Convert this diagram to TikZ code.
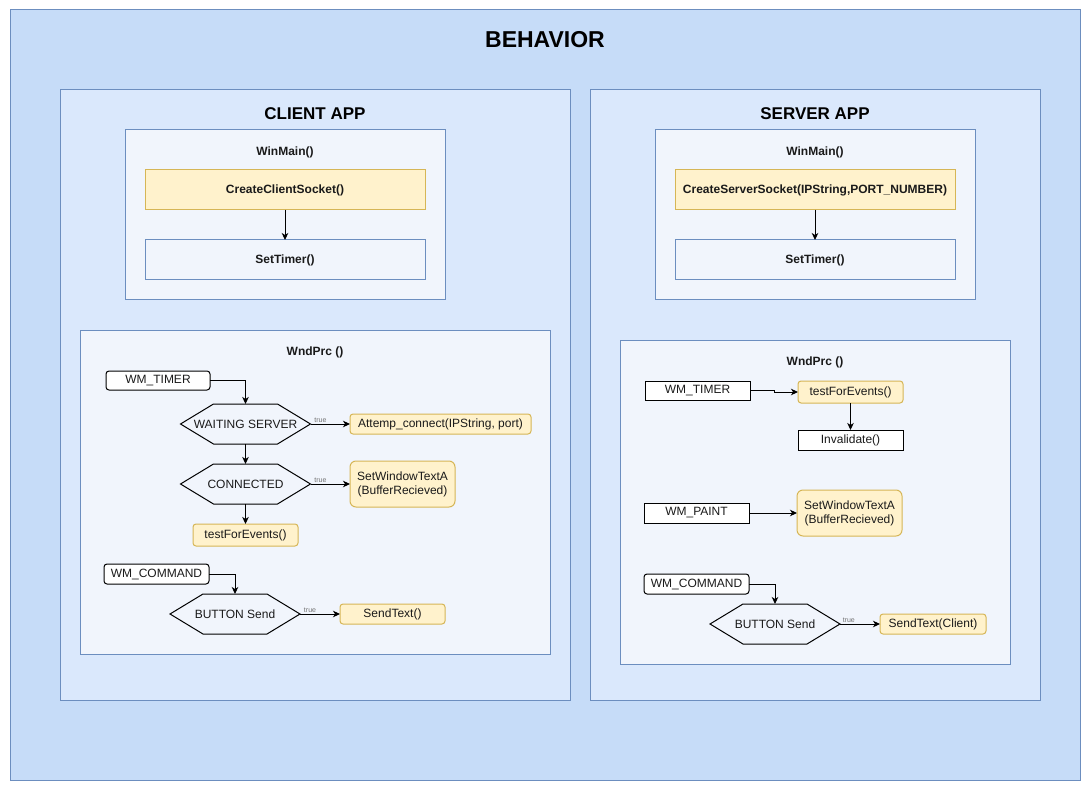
\documentclass[tikz,border=0pt]{standalone}
\usepackage{fontspec}
\setmainfont{Liberation Sans}
\usetikzlibrary{arrows.meta,calc}
\definecolor{outerfill}{HTML}{C6DCF8}
\definecolor{appfill}{HTML}{DAE8FC}
\definecolor{innerfill}{HTML}{F1F5FC}
\definecolor{bluestroke}{HTML}{6C8EBF}
\definecolor{yfill}{HTML}{FFF2CC}
\definecolor{ystroke}{HTML}{D6B656}
\definecolor{txt}{HTML}{1A1A1A}
\newcommand{\hexdraw}[1]{\draw[line width=1pt,black] (#1.west) -- ([xshift=33pt]#1.north west) -- ([xshift=-33pt]#1.north east) -- (#1.east) -- ([xshift=-33pt]#1.south east) -- ([xshift=33pt]#1.south west) -- cycle;}
\begin{document}
\begin{tikzpicture}[x=1pt,y=-1pt,
  container/.style={draw=bluestroke,line width=1pt,inner sep=0pt,outer sep=0pt,anchor=north west},
  base/.style={inner sep=0pt,outer sep=0pt,font=\fontsize{12}{14}\selectfont,text=txt,align=center},
  bluebox/.style={base,draw=bluestroke,fill=innerfill,line width=1pt,font=\fontsize{12}{14}\selectfont\bfseries},
  ybox/.style={base,draw=ystroke,fill=yfill,line width=1pt},
  ybold/.style={ybox,font=\fontsize{12}{14}\selectfont\bfseries},
  msg/.style={base,draw=black,fill=white,line width=1pt},
  hexa/.style={base,minimum width=130pt,minimum height=40pt},
  arr/.style={line width=1pt,-{Stealth[length=7pt,width=6.5pt,inset=2pt]}},
  truelbl/.style={font=\fontsize{7}{8}\selectfont,text=black!55,inner sep=1pt,above}
]
\useasboundingbox (0,0) rectangle (1091,791);
% containers
\node[container,fill=outerfill,minimum width=1070pt,minimum height=770pt] (beh) at (10,10) {};
\node[container,fill=appfill,minimum width=510pt,minimum height=610pt] (capp) at (60,90) {};
\node[container,fill=appfill,minimum width=450pt,minimum height=610pt] (sapp) at (590,90) {};
\node[container,fill=innerfill,minimum width=320pt,minimum height=170pt] (cwm) at (125,130) {};
\node[container,fill=innerfill,minimum width=320pt,minimum height=170pt] (swm) at (655,130) {};
\node[container,fill=innerfill,minimum width=470pt,minimum height=324pt] (cwp) at (80,330) {};
\node[container,fill=innerfill,minimum width=390pt,minimum height=324pt] (swp0) at (620,340) {};
% titles
\node[base,font=\fontsize{23}{26}\selectfont\bfseries,text=black] (tbeh) at (545,40) {BEHAVIOR};
\node[base,font=\fontsize{17}{20}\selectfont\bfseries,text=black] (tcli) at (315,114) {CLIENT APP};
\node[base,font=\fontsize{17}{20}\selectfont\bfseries,text=black] (tsrv) at (815,114) {SERVER APP};
\node[base,font=\fontsize{12}{14}\selectfont\bfseries] (tcwm) at (285,152) {WinMain()};
\node[base,font=\fontsize{12}{14}\selectfont\bfseries] (tswm) at (815,152) {WinMain()};
\node[base,font=\fontsize{12}{14}\selectfont\bfseries] (tcwp) at (315,352) {WndPrc ()};
\node[base,font=\fontsize{12}{14}\selectfont\bfseries] (tswp) at (815,362) {WndPrc ()};
% WinMain boxes
\node[ybold,minimum width=280pt,minimum height=40pt] (ccs) at (285,190) {CreateClientSocket()};
\node[bluebox,minimum width=280pt,minimum height=40pt] (cst) at (285,260) {SetTimer()};
\node[ybold,minimum width=280pt,minimum height=40pt] (scs) at (815,190) {CreateServerSocket(IPString,PORT\_NUMBER)};
\node[bluebox,minimum width=280pt,minimum height=40pt] (sst) at (815,260) {SetTimer()};
\draw[arr] (ccs.south) -- (cst.north);
\draw[arr] (scs.south) -- (sst.north);
% client WndPrc
\node[msg,rounded corners=3pt,minimum width=104pt,minimum height=19pt] (cwt) at (158,380.5) {WM\_TIMER};
\node[hexa] (cws) at (245.5,424) {WAITING SERVER};
\hexdraw{cws}
\node[ybox,rounded corners=3pt,minimum width=181pt,minimum height=20pt] (cac) at (440.5,424) {Attemp\_connect(IPString, port)};
\node[hexa] (ccn) at (245.5,484) {CONNECTED};
\hexdraw{ccn}
\node[ybox,rounded corners=6pt,minimum width=105pt,minimum height=46pt] (csw) at (402.5,484) {SetWindowTextA\\(BufferRecieved)};
\node[ybox,rounded corners=3pt,minimum width=105pt,minimum height=22pt] (ctf) at (245.5,535) {testForEvents()};
\node[msg,rounded corners=3pt,minimum width=105pt,minimum height=20pt] (cwc) at (156.5,574) {WM\_COMMAND};
\node[hexa] (cbs) at (235,614) {BUTTON Send};
\hexdraw{cbs}
\node[ybox,rounded corners=3pt,minimum width=105pt,minimum height=20pt] (cstx) at (392.5,614) {SendText()};
\draw[arr] (cwt.east) -| (cws.north);
\draw[arr] (cws.south) -- (ccn.north);
\draw[arr] (ccn.south) -- (ctf.north);
\draw[arr] (cws.east) -- node[truelbl,pos=0.25] (tl1) {true} (cac.west);
\draw[arr] (ccn.east) -- node[truelbl,pos=0.25] (tl2) {true} (csw.west);
\draw[arr] (cwc.east) -| (cbs.north);
\draw[arr] (cbs.east) -- node[truelbl,pos=0.25] (tl3) {true} (cstx.west);
% server WndPrc
\node[msg,minimum width=105pt,minimum height=19pt] (swt) at (697.5,390.5) {WM\_TIMER};
\node[ybox,rounded corners=3pt,minimum width=105pt,minimum height=22pt] (stf) at (850.5,392) {testForEvents()};
\node[msg,minimum width=105pt,minimum height=20pt] (sinv) at (850.5,440) {Invalidate()};
\node[msg,minimum width=105pt,minimum height=20pt] (swpt) at (696.5,513) {WM\_PAINT};
\node[ybox,rounded corners=6pt,minimum width=105pt,minimum height=46pt] (ssw) at (849.5,513) {SetWindowTextA\\(BufferRecieved)};
\node[msg,rounded corners=3pt,minimum width=105pt,minimum height=20pt] (swc) at (696.5,584) {WM\_COMMAND};
\node[hexa] (sbs) at (775,624) {BUTTON Send};
\hexdraw{sbs}
\node[ybox,rounded corners=3pt,minimum width=106pt,minimum height=20pt] (sstx) at (933,624) {SendText(Client)};
\draw[arr] (swt.east) -- ++(24,0) |- (stf.west);
\draw[arr] (stf.south) -- (sinv.north);
\draw[arr] (swpt.east) -- (ssw.west);
\draw[arr] (swc.east) -| (sbs.north);
\draw[arr] (sbs.east) -- node[truelbl,pos=0.22] (tl4) {true} (sstx.west);
\end{tikzpicture}
\end{document}
